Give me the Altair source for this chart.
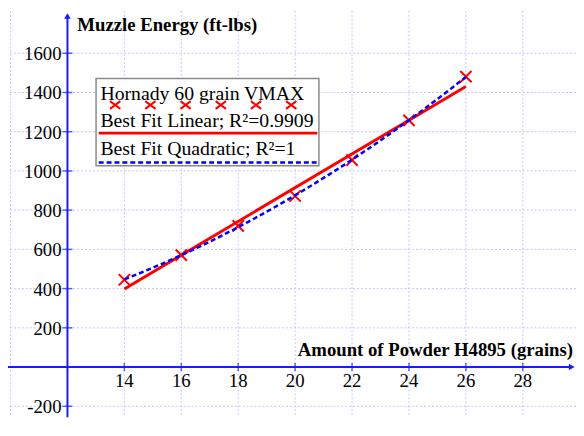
import altair as alt
import pandas as pd

# ---- data ----
powder = [14, 16, 18, 20, 22, 24, 26]
energy = [445, 571, 720, 872, 1055, 1258, 1481]
x_ticks = [14, 16, 18, 20, 22, 24, 26, 28]
y_ticks = [-200, 200, 400, 600, 800, 1000, 1200, 1400, 1600]
x_grid = [10, 14, 16, 18, 20, 22, 24, 26, 28]
y_grid = [-200, 200, 400, 600, 800, 1000, 1200, 1400, 1600]
x_title = "Amount of Powder H4895 (grains)"
y_title = "Muzzle Energy (ft-lbs)"
legend_labels = ["Hornady 60 grain VMAX", "Best Fit Linear; R\u00b2=0.9909", "Best Fit Quadratic; R\u00b2=1"]
axis_origin_x = 12
axis_origin_y = 0
y_arrow_top = 1790
x_arrow_right = 29.72

# ---- layout ----
W, H = 576, 412
xs = alt.Scale(domain=[9.911, 29.869], nice=False, zero=False)
ys = alt.Scale(domain=[-255.4, 1816.2], nice=False, zero=False)
FONT = "Liberation Serif, Times New Roman, serif"
GRID = "#c4c4ff"
AXIS = "#1a1aff"
XPATH = "M-1,-1L1,1M-1,1L1,-1"
XPATH_LEG = "M-1,-0.75L1,0.75M-1,0.75L1,-0.75"


def X(f):
    return alt.X(f, type="quantitative", scale=xs, axis=None)


def Y(f):
    return alt.Y(f, type="quantitative", scale=ys, axis=None)


df = pd.DataFrame({"powder": powder, "energy": energy})
dxg = pd.DataFrame({"v": x_grid})
dyg = pd.DataFrame({"v": y_grid})
dxt = pd.DataFrame({"v": x_ticks, "zero": [axis_origin_y] * len(x_ticks),
                    "lab": [str(v) for v in x_ticks]})
dyt = pd.DataFrame({"v": y_ticks, "ox": [axis_origin_x] * len(y_ticks),
                    "lab": [str(v) for v in y_ticks]})
dax = pd.DataFrame({"ox": [axis_origin_x], "oy": [axis_origin_y],
                    "top": [y_arrow_top], "right": [x_arrow_right]})
one = pd.DataFrame({"t": [x_title], "u": [y_title],
                    "l0": [legend_labels[0]], "l1": [legend_labels[1]], "l2": [legend_labels[2]]})
dleg = pd.DataFrame({"i": list(range(6))})

grid_v = alt.Chart(dxg).mark_rule(color=GRID, strokeDash=[2, 2], strokeWidth=1).encode(x=X("v"))
grid_h = alt.Chart(dyg).mark_rule(color=GRID, strokeDash=[2, 2], strokeWidth=1).encode(y=Y("v"))

y_axis = alt.Chart(dax).mark_rule(color=AXIS, strokeWidth=2).encode(
    x=X("ox"), y=Y("top"), y2=alt.value(H))
x_axis = alt.Chart(dax).mark_rule(color=AXIS, strokeWidth=2).encode(
    y=Y("oy"), x=alt.value(0), x2=alt.value(W - 4))
arrow_up = alt.Chart(dax).mark_point(shape="triangle-up", filled=True, color=AXIS, size=45, opacity=1).encode(
    x=X("ox"), y=Y("top"))
arrow_right = alt.Chart(dax).mark_point(shape="triangle-right", filled=True, color=AXIS, size=45, opacity=1).encode(
    x=X("right"), y=Y("oy"))

x_tickmarks = alt.Chart(dxt).mark_tick(orient="vertical", size=8, thickness=1.5, color=AXIS).encode(
    x=X("v"), y=Y("zero"))
y_tickmarks = alt.Chart(dyt).mark_tick(orient="horizontal", size=10, thickness=1.5, color=AXIS).encode(
    x=X("ox"), y=Y("v"))

x_labels = alt.Chart(dxt).mark_text(font=FONT, fontSize=19, dy=20, baseline="alphabetic",
                                    align="center", color="black").encode(
    x=X("v"), y=Y("zero"), text="lab:N")
y_labels = alt.Chart(dyt).mark_text(font=FONT, fontSize=19, dx=-6, dy=1, baseline="middle",
                                    align="right", color="black").encode(
    x=X("ox"), y=Y("v"), text="lab:N")

x_title_t = alt.Chart(one).mark_text(font=FONT, fontSize=19, fontWeight="bold", align="right",
                                     baseline="alphabetic", color="black").encode(
    x=alt.value(573), y=alt.value(350), text="t:N")
y_title_t = alt.Chart(one).mark_text(font=FONT, fontSize=19, fontWeight="bold", align="left",
                                     baseline="alphabetic", color="black").encode(
    x=alt.value(70.3), y=alt.value(20.3), text="u:N")

points = alt.Chart(df).mark_point(shape=XPATH, size=130, filled=False, strokeWidth=2,
                                  color="#ff0000", opacity=1).encode(
    x=X("powder"), y=Y("energy"))
lin = alt.Chart(df).transform_regression("powder", "energy", method="linear").mark_line(
    color="#ff0000", strokeWidth=3).encode(x=X("powder"), y=Y("energy"))
quad = alt.Chart(df).transform_regression("powder", "energy", method="poly", order=2).mark_line(
    color="#0000ff", strokeWidth=2.5, strokeDash=[5, 3]).encode(x=X("powder"), y=Y("energy"))

# ---- legend box ----
leg_box = alt.Chart(one).mark_rect(fill="white", stroke="#8a8a8a", strokeWidth=1.5).encode(
    x=alt.value(89.3), x2=alt.value(315.3), y=alt.value(68.7), y2=alt.value(157))
leg_t0 = alt.Chart(one).mark_text(font=FONT, fontSize=20, align="left", baseline="alphabetic",
                                  color="black").encode(x=alt.value(93.7), y=alt.value(90.3), text="l0:N")
leg_t1 = alt.Chart(one).mark_text(font=FONT, fontSize=20, align="left", baseline="alphabetic",
                                  color="black").encode(x=alt.value(93.7), y=alt.value(117.5), text="l1:N")
leg_t2 = alt.Chart(one).mark_text(font=FONT, fontSize=20, align="left", baseline="alphabetic",
                                  color="black").encode(x=alt.value(93.7), y=alt.value(146.5), text="l2:N")
leg_marks = alt.Chart(dleg).transform_calculate(px="108.7 + datum.i * 35.7").mark_point(
    shape=XPATH_LEG, size=110, filled=False, strokeWidth=2, color="#ff0000", opacity=1).encode(
    x=alt.X("px:Q", scale=None, axis=None), y=alt.value(95.5))
leg_lin = alt.Chart(one).mark_rule(color="#ff0000", strokeWidth=3).encode(
    x=alt.value(92), x2=alt.value(313.7), y=alt.value(124))
leg_quad = alt.Chart(one).mark_rule(color="#0000ff", strokeWidth=2.5, strokeDash=[5, 3]).encode(
    x=alt.value(92), x2=alt.value(313.7), y=alt.value(153.7))

chart = alt.layer(
    grid_v, grid_h, y_axis, x_axis, arrow_up, arrow_right, x_tickmarks, y_tickmarks,
    x_labels, y_labels, x_title_t, y_title_t, points, lin, quad,
    leg_box, leg_t0, leg_t1, leg_t2, leg_marks, leg_lin, leg_quad
).properties(
    width=W, height=H, padding=0, autosize=alt.AutoSizeParams(type="none"), background="white"
).configure_view(stroke=None).configure_text(font=FONT)

chart.save("out.html", embed_options={"renderer": "svg", "actions": False})
